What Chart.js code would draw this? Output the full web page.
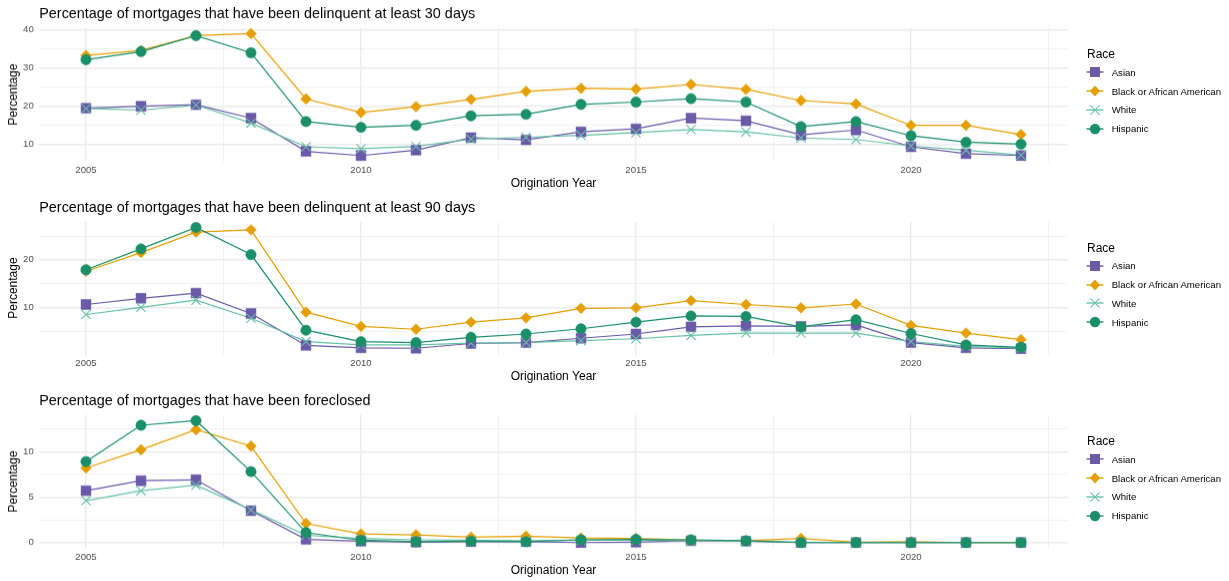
<!DOCTYPE html>
<html>
<head>
<meta charset="utf-8">
<script src="https://cdn.jsdelivr.net/npm/chart.js@4.4.1/dist/chart.umd.min.js"></script>
<style>
  html, body { margin: 0; padding: 0; background: #fff; }
  body { width: 1229px; height: 581px; position: relative; overflow: hidden; font-family: "Liberation Sans", Arial, sans-serif; }
  .panel { position: absolute; left: 0; width: 1229px; height: 193.5px; }
  .panel canvas { position: absolute; left: 0; top: 0; }
  .legend { position: absolute; left: 1085px; top: 46px; }
  .legend .ttl { font-size: 12px; line-height: 17px; height: 17px; padding-left: 2px; color: #000; }
  .legend .item { display: flex; align-items: center; height: 18.8px; }
  .legend .item svg { width: 20px; height: 18px; flex: none; }
  .legend .item span { margin-left: 6.7px; font-size: 9.6px; color: #000; white-space: nowrap; }
</style>
</head>
<body>
<script>
// Origination years on the x axis
const years = [2005, 2006, 2007, 2008, 2009, 2010, 2011, 2012, 2013, 2014, 2015, 2016, 2017, 2018, 2019, 2020, 2021, 2022];
const xTicks = [2005, 2007.5, 2010, 2012.5, 2015, 2017.5, 2020, 2022.5];

const races = ['Asian', 'Black or African American', 'White', 'Hispanic'];
const raceColors = ['#6a5aa8', '#e69f00', '#66c2a5', '#1b9068'];
const raceShapes = ['rect', 'rectRot', 'crossRot', 'circle'];
const raceRadius = [7, 5.4, 6.5, 5.2];

// Delinquent at least 30 days (%)
const asian30 = [19.4, 19.9, 20.3, 16.8, 8.1, 7.0, 8.4, 11.7, 11.1, 13.2, 14.0, 16.8, 16.1, 12.4, 13.7, 9.3, 7.5, 7.0];
const black30 = [33.2, 34.5, 38.4, 38.9, 21.8, 18.3, 19.8, 21.7, 23.8, 24.6, 24.4, 25.6, 24.3, 21.4, 20.5, 14.9, 14.9, 12.5];
const white30 = [19.3, 18.9, 20.2, 15.5, 9.3, 8.8, 9.4, 11.3, 11.8, 12.3, 13.0, 13.8, 13.2, 11.6, 11.2, 9.5, 8.4, 7.1];
const hisp30 = [32.1, 34.2, 38.4, 33.9, 15.9, 14.4, 14.9, 17.4, 17.8, 20.4, 21.0, 21.9, 21.0, 14.6, 15.9, 12.2, 10.5, 10.0];
const yTicks30 = [10, 15, 20, 25, 30, 35, 40];

// Delinquent at least 90 days (%)
const asian90 = [10.6, 11.9, 13.0, 8.7, 2.0, 1.5, 1.4, 2.4, 2.6, 3.5, 4.4, 5.9, 6.1, 6.0, 6.3, 2.6, 1.5, 1.3];
const black90 = [17.6, 21.5, 25.8, 26.3, 9.0, 6.0, 5.4, 6.9, 7.8, 9.8, 9.9, 11.4, 10.6, 9.9, 10.7, 6.2, 4.6, 3.2];
const white90 = [8.5, 10.0, 11.5, 7.7, 2.8, 2.1, 2.1, 2.5, 2.6, 3.0, 3.4, 4.1, 4.6, 4.6, 4.6, 2.8, 1.8, 1.5];
const hisp90 = [17.9, 22.3, 26.8, 21.1, 5.2, 2.8, 2.6, 3.7, 4.4, 5.5, 6.9, 8.2, 8.1, 5.9, 7.4, 4.5, 2.1, 1.6];
const yTicks90 = [5, 10, 15, 20, 25];

// Foreclosed (%)
const asianFc = [5.7, 6.8, 6.9, 3.5, 0.35, 0.15, 0.05, 0.1, 0.1, 0.0, 0.05, 0.2, 0.15, 0.0, 0.0, 0.0, 0.0, 0.0];
const blackFc = [8.2, 10.2, 12.4, 10.6, 2.1, 0.95, 0.85, 0.6, 0.7, 0.5, 0.45, 0.25, 0.2, 0.45, 0.05, 0.1, 0.0, 0.0];
const whiteFc = [4.6, 5.7, 6.3, 3.6, 0.8, 0.45, 0.3, 0.25, 0.2, 0.25, 0.25, 0.2, 0.15, 0.05, 0.0, 0.0, 0.0, 0.0];
const hispFc = [8.9, 12.9, 13.4, 7.8, 1.1, 0.25, 0.1, 0.15, 0.1, 0.3, 0.35, 0.3, 0.2, 0.0, 0.0, 0.0, 0.0, 0.0];
const yTicksFc = [0, 2.5, 5, 7.5, 10, 12.5];

const panels = [
  { title: 'Percentage of mortgages that have been delinquent at least 30 days', series: [asian30, black30, white30, hisp30], ticks: yTicks30, major: 10 },
  { title: 'Percentage of mortgages that have been delinquent at least 90 days', series: [asian90, black90, white90, hisp90], ticks: yTicks90, major: 10 },
  { title: 'Percentage of mortgages that have been foreclosed', series: [asianFc, blackFc, whiteFc, hispFc], ticks: yTicksFc, major: 5 }
];

const FONT = "'Liberation Sans', Arial, sans-serif";
Chart.defaults.font.family = FONT;

// ggplot-style 5% padding around the data range
function expand(lo, hi) {
  const pad = (hi - lo) * 0.05;
  return [lo - pad, hi + pad];
}

function legendIcon(i) {
  const c = raceColors[i];
  let mark = '';
  if (i === 0) mark = `<rect x="5" y="4" width="10" height="10" fill="${c}"/>`;
  if (i === 1) mark = `<polygon points="10,3.6 15,9 10,14.4 5,9" fill="${c}"/>`;
  if (i === 2) mark = `<path d="M5.4 4.4 L14.6 13.6 M14.6 4.4 L5.4 13.6" stroke="${c}" stroke-width="1.1"/>`;
  if (i === 3) mark = `<circle cx="10" cy="9" r="5.2" fill="${c}"/>`;
  return `<svg viewBox="0 0 20 18"><line x1="1.5" y1="9" x2="18.5" y2="9" stroke="${c}" stroke-width="1.4"/>${mark}</svg>`;
}

panels.forEach((p, idx) => {
  const wrap = document.createElement('div');
  wrap.className = 'panel';
  wrap.style.top = (idx * 193.5) + 'px';
  const canvas = document.createElement('canvas');
  canvas.width = 1229;
  canvas.height = 193.5;
  canvas.style.width = '1229px';
  canvas.style.height = '193.5px';
  wrap.appendChild(canvas);

  const legend = document.createElement('div');
  legend.className = 'legend';
  legend.innerHTML = '<div class="ttl">Race</div>' +
    races.map((r, i) => `<div class="item">${legendIcon(i)}<span>${r}</span></div>`).join('');
  wrap.appendChild(legend);
  document.body.appendChild(wrap);

  const all = p.series.flat();
  const [ymin, ymax] = expand(Math.min(...all), Math.max(...all));
  const [xmin, xmax] = expand(years[0], years[years.length - 1]);

  // lines first (higher order = drawn earlier), then the markers on top
  const datasets = [];
  p.series.forEach((vals, i) => {
    const pts = years.map((yr, k) => ({ x: yr, y: vals[k] }));
    datasets.push({
      label: races[i], data: pts, order: 10 + (3 - i),
      borderColor: raceColors[i], borderWidth: 1.2, pointRadius: 0, pointHoverRadius: 0, tension: 0
    });
    datasets.push({
      label: races[i], data: pts, order: 3 - i, showLine: false,
      pointStyle: raceShapes[i], pointRadius: raceRadius[i], pointHoverRadius: raceRadius[i],
      pointBackgroundColor: raceColors[i], pointBorderColor: raceColors[i],
      pointBorderWidth: raceShapes[i] === 'crossRot' ? 1.1 : 0.5
    });
  });

  new Chart(canvas, {
    type: 'line',
    data: { datasets },
    options: {
      responsive: false,
      animation: false,
      devicePixelRatio: 1,
      layout: { padding: { left: 0, right: 161.25, top: 0, bottom: 0 } },
      plugins: {
        legend: { display: false },
        tooltip: { enabled: false },
        title: {
          display: true, text: p.title, align: 'start', fullSize: false, color: '#000',
          font: { size: 14.4, weight: 'normal' }, padding: { top: 5.1, bottom: 5 }
        }
      },
      scales: {
        x: {
          type: 'linear', min: xmin, max: xmax,
          afterBuildTicks: s => { s.ticks = xTicks.map(v => ({ value: v })); },
          afterFit: s => { s.height = 32.2; },
          grid: { color: '#ebebeb', drawTicks: false, lineWidth: c => (c.tick && c.tick.value % 5 === 0 ? 1.4 : 0.7) },
          border: { display: false },
          ticks: {
            autoSkip: false, maxRotation: 0, padding: 3.2, color: '#4d4d4d', font: { size: 9.6 },
            callback: v => (v % 5 === 0 ? String(v) : '')
          },
          title: { display: true, text: 'Origination Year', color: '#000', font: { size: 12 }, padding: { top: 0, bottom: 2.9 } }
        },
        y: {
          type: 'linear', min: ymin, max: ymax,
          afterBuildTicks: s => { s.ticks = p.ticks.map(v => ({ value: v })); },
          afterFit: s => { s.width = 39.25; },
          grid: { color: '#ebebeb', drawTicks: false, lineWidth: c => (c.tick && c.tick.value % p.major === 0 ? 1.4 : 0.7) },
          border: { display: false },
          ticks: {
            autoSkip: false, padding: 5.5, color: '#4d4d4d', font: { size: 9.6 },
            callback: v => (v % p.major === 0 ? String(v) : '')
          },
          title: { display: true, text: 'Percentage', color: '#000', font: { size: 12 }, padding: { top: 6.2, bottom: 0 } }
        }
      }
    }
  });
});
</script>
</body>
</html>
